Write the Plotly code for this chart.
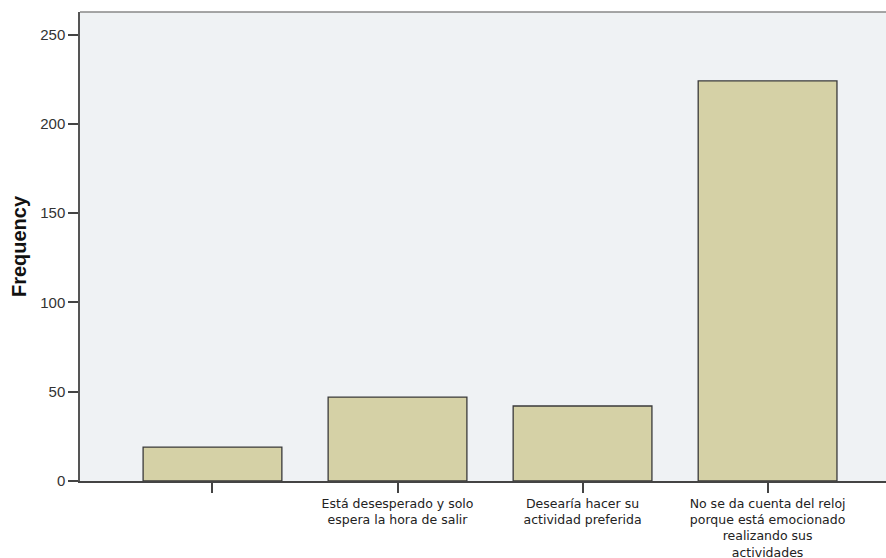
import plotly.graph_objects as go

categories = [
    "",
    "Está desesperado y solo<br>espera la hora de salir",
    "Desearía hacer su<br>actividad preferida",
    "No se da cuenta del reloj<br>porque está emocionado<br>realizando sus<br>actividades",
]
frequency = [19, 47, 42, 224]
y_ticks = [0, 50, 100, 150, 200, 250]

positions = list(range(len(categories)))

fig = go.Figure()
fig.add_trace(go.Bar(
    x=positions,
    y=frequency,
    width=0.75,
    marker=dict(color="#D5D1A6", line=dict(color="#3a3a3a", width=1.3)),
    hoverinfo="skip",
))

fig.update_layout(
    width=886,
    height=558,
    margin=dict(l=80, r=0, t=12, b=77),
    paper_bgcolor="white",
    plot_bgcolor="#EFF2F4",
    showlegend=False,
    font=dict(family="Liberation Sans, Arial, sans-serif", color="#333333"),
    xaxis=dict(
        range=[-0.716, 3.64],
        tickmode="array",
        tickvals=positions,
        ticktext=categories,
        ticks="outside",
        ticklen=10,
        tickwidth=1.5,
        tickcolor="#444444",
        showline=True,
        linecolor="#444444",
        linewidth=1.5,
        showgrid=False,
        zeroline=False,
        automargin=False,
        tickfont=dict(family="DejaVu Sans, sans-serif", size=12.5, color="#222222"),
        fixedrange=True,
    ),
    yaxis=dict(
        range=[0, 262.6],
        tickmode="array",
        tickvals=y_ticks,
        ticktext=[str(v) for v in y_ticks],
        ticks="outside",
        ticklen=10,
        tickwidth=1.5,
        tickcolor="#444444",
        showline=True,
        linecolor="#555555",
        linewidth=1.5,
        showgrid=False,
        zeroline=False,
        automargin=False,
        tickfont=dict(size=15, color="#333333"),
        title=dict(text="<b>Frequency</b>", font=dict(size=20, color="#111111"), standoff=8),
        fixedrange=True,
    ),
    shapes=[dict(
        type="line", xref="paper", yref="paper",
        x0=0, x1=1, y0=1, y1=1,
        line=dict(color="#888888", width=1.5),
    )],
)

fig.write_html(
    "out.html",
    config={"displayModeBar": False},
    post_script="document.body.style.margin='0';document.body.style.overflow='hidden';",
)
